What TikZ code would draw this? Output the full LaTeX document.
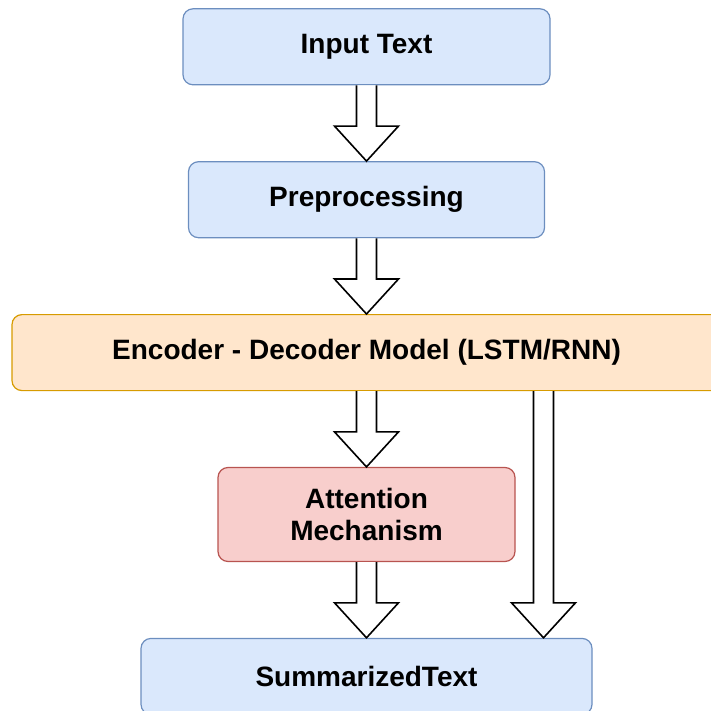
\documentclass[tikz,border=0pt]{standalone}
\usepackage{fontspec}
\setmainfont{Liberation Sans}
\usetikzlibrary{positioning,calc}

\definecolor{blueFill}{HTML}{DAE8FC}
\definecolor{blueLine}{HTML}{6C8EBF}
\definecolor{orangeFill}{HTML}{FFE6CC}
\definecolor{orangeLine}{HTML}{D79B00}
\definecolor{redFill}{HTML}{F8CECC}
\definecolor{redLine}{HTML}{B85450}

\tikzset{
  box/.style={draw, rounded corners=5pt, line width=0.6pt, minimum height=38pt,
    inner sep=0pt, align=center, font=\fontsize{14}{16}\selectfont\bfseries},
  bluebox/.style={box, fill=blueFill, draw=blueLine},
  orangebox/.style={box, fill=orangeFill, draw=orangeLine},
  redbox/.style={box, fill=redFill, draw=redLine},
  hollow/.style={draw=black, fill=white, line width=0.8pt, line join=miter}
}

% hollow block arrow: [xshift] from to
\newcommand{\hollowarrow}[3][0pt]{%
  \draw[hollow] let \p1=([xshift=#1]#2.south), \p2=([xshift=#1]#3.north) in
    (\x1-5pt,\y1) -- (\x1-5pt,\y2+17.5pt) -- (\x1-16pt,\y2+17.5pt) -- (\x1,\y2)
    -- (\x1+16pt,\y2+17.5pt) -- (\x1+5pt,\y2+17.5pt) -- (\x1+5pt,\y1);}

\begin{document}
\begin{tikzpicture}[node distance=37.85pt]
  \clip (0,0) rectangle (355.5pt,-355.5pt);

  % Input text
  \node[bluebox, minimum width=183.5pt] (input) at (183.25pt,-23.4pt) {Input Text};

  % Preprocessing
  \node[bluebox, minimum width=178pt, below=of input] (prep) {Preprocessing};

  % Encoder - decoder
  \node[orangebox, minimum width=354.5pt, below=of prep] (enc) {Encoder - Decoder Model (LSTM/RNN)};

  % Attention
  \node[redbox, minimum width=148.5pt, minimum height=47pt, below=of enc] (att) {Attention\\Mechanism};

  % Summary
  \node[bluebox, minimum width=225.5pt, below=of att] (sum) {SummarizedText};

  % Arrows
  \hollowarrow{input}{prep}
  \hollowarrow{prep}{enc}
  \hollowarrow{enc}{att}
  \hollowarrow{att}{sum}
  \hollowarrow[88.5pt]{enc}{sum}
\end{tikzpicture}
\end{document}
